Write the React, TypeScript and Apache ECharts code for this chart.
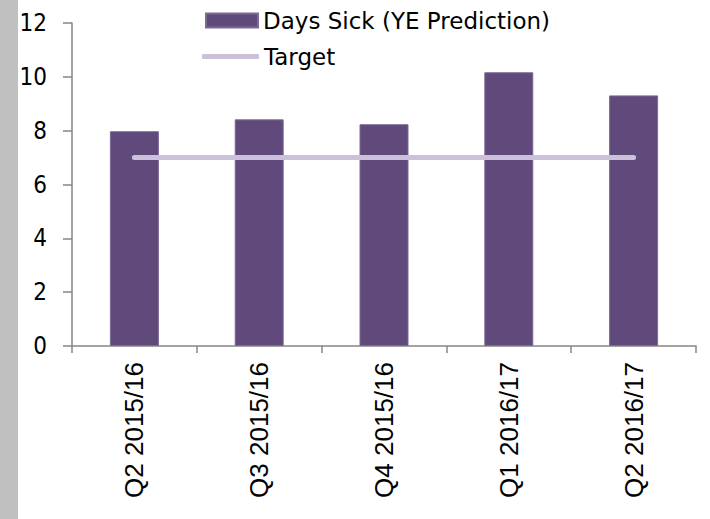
import React, { useEffect, useRef } from "react";
import * as echarts from "echarts";

const categories = ["Q2 2015/16", "Q3 2015/16", "Q4 2015/16", "Q1 2016/17", "Q2 2016/17"];
const daysSick = [7.98, 8.42, 8.24, 10.17, 9.31];
const target = [7, 7, 7, 7, 7];
const yTicks = { min: 0, max: 12, interval: 2 };

const BAR = "#604a7b";
const TARGET = "#ccc1da";
const AXIS = "#868686";
const SANS = "'DejaVu Sans', sans-serif";
const SANS_NARROW = "'DejaVu Sans Condensed', 'DejaVu Sans', sans-serif";
const ARIAL = "'Liberation Sans', Arial, sans-serif";

export default function App() {
  const ref = useRef<HTMLDivElement>(null);

  useEffect(() => {
    if (!ref.current) return;
    const chart = echarts.init(ref.current, undefined, { renderer: "svg" });
    chart.setOption({
      animation: false,
      backgroundColor: "#ffffff",
      graphic: [
        {
          type: "rect",
          left: 0,
          top: 0,
          shape: { width: 18, height: 519 },
          style: { fill: "#c0c0c0" },
          silent: true,
        },
      ],
      legend: [
        {
          data: ["Days Sick (YE Prediction)"],
          left: 205,
          top: 9,
          padding: 0,
          icon: "rect",
          itemWidth: 52,
          itemHeight: 14,
          textStyle: { fontFamily: SANS, fontSize: 23, color: "#000" },
        },
        {
          data: ["Target"],
          left: 202,
          top: 45,
          padding: 0,
          icon: "roundRect",
          itemWidth: 57,
          itemHeight: 5,
          textStyle: { fontFamily: SANS, fontSize: 23, color: "#000" },
        },
      ],
      grid: { left: 72, right: 14, top: 23, bottom: 173, containLabel: false },
      xAxis: {
        type: "category",
        data: categories,
        boundaryGap: true,
        axisLine: { lineStyle: { color: AXIS, width: 1.5 } },
        axisTick: { show: true, length: 7, lineStyle: { color: AXIS, width: 1.5 } },
        axisLabel: {
          rotate: 90,
          margin: 16,
          fontFamily: ARIAL,
          fontSize: 26,
          color: "#000",
        },
      },
      yAxis: {
        type: "value",
        min: yTicks.min,
        max: yTicks.max,
        interval: yTicks.interval,
        splitLine: { show: false },
        axisLine: { show: true, lineStyle: { color: AXIS, width: 1.5 } },
        axisTick: { show: true, length: 9, lineStyle: { color: AXIS, width: 1.5 } },
        axisLabel: {
          margin: 25,
          fontFamily: SANS_NARROW,
          fontSize: 24,
          color: "#000",
        },
      },
      series: [
        {
          name: "Days Sick (YE Prediction)",
          type: "bar",
          data: daysSick,
          barWidth: 49,
          itemStyle: { color: BAR, borderColor: "#7d6a94", borderWidth: 1 },
        },
        {
          name: "Target",
          type: "line",
          data: target,
          symbol: "none",
          lineStyle: { color: TARGET, width: 5, cap: "round" },
          itemStyle: { color: TARGET },
        },
      ],
    });
    return () => chart.dispose();
  }, []);

  return (
    <div
      ref={ref}
      style={{ position: "fixed", left: 0, top: 0, width: 710, height: 519 }}
    />
  );
}
